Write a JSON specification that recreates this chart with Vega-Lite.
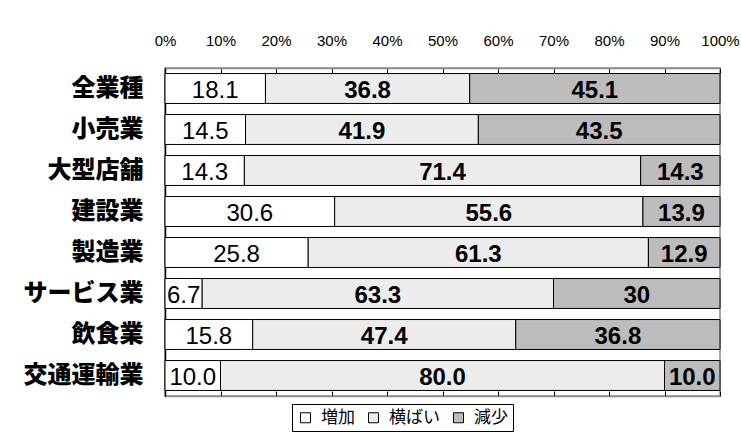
{
  "$schema": "https://vega.github.io/schema/vega-lite/v6.json",
  "width": 555,
  "height": 328,
  "autosize": {"type": "none"},
  "padding": {"left": 165, "top": 68, "right": 21, "bottom": 44},
  "background": "white",
  "config": {
    "view": {"stroke": "#8c8c8c", "strokeWidth": 1.5},
    "font": "Liberation Sans"
  },
  "data": {
    "values": [
      {"industry": "全業種", "category": "増加", "value": 18.1, "label": "18.1"},
      {"industry": "全業種", "category": "横ばい", "value": 36.8, "label": "36.8"},
      {"industry": "全業種", "category": "減少", "value": 45.1, "label": "45.1"},
      {"industry": "小売業", "category": "増加", "value": 14.5, "label": "14.5"},
      {"industry": "小売業", "category": "横ばい", "value": 41.9, "label": "41.9"},
      {"industry": "小売業", "category": "減少", "value": 43.5, "label": "43.5"},
      {"industry": "大型店舗", "category": "増加", "value": 14.3, "label": "14.3"},
      {"industry": "大型店舗", "category": "横ばい", "value": 71.4, "label": "71.4"},
      {"industry": "大型店舗", "category": "減少", "value": 14.3, "label": "14.3"},
      {"industry": "建設業", "category": "増加", "value": 30.6, "label": "30.6"},
      {"industry": "建設業", "category": "横ばい", "value": 55.6, "label": "55.6"},
      {"industry": "建設業", "category": "減少", "value": 13.9, "label": "13.9"},
      {"industry": "製造業", "category": "増加", "value": 25.8, "label": "25.8"},
      {"industry": "製造業", "category": "横ばい", "value": 61.3, "label": "61.3"},
      {"industry": "製造業", "category": "減少", "value": 12.9, "label": "12.9"},
      {"industry": "サービス業", "category": "増加", "value": 6.7, "label": "6.7"},
      {"industry": "サービス業", "category": "横ばい", "value": 63.3, "label": "63.3"},
      {"industry": "サービス業", "category": "減少", "value": 30, "label": "30"},
      {"industry": "飲食業", "category": "増加", "value": 15.8, "label": "15.8"},
      {"industry": "飲食業", "category": "横ばい", "value": 47.4, "label": "47.4"},
      {"industry": "飲食業", "category": "減少", "value": 36.8, "label": "36.8"},
      {"industry": "交通運輸業", "category": "増加", "value": 10.0, "label": "10.0"},
      {"industry": "交通運輸業", "category": "横ばい", "value": 80.0, "label": "80.0"},
      {"industry": "交通運輸業", "category": "減少", "value": 10.0, "label": "10.0"}
    ]
  },
  "transform": [
    {"stack": "value", "groupby": ["industry"], "sort": [{"field": "category", "order": "ascending"}], "offset": "normalize", "as": ["v0", "v1"]}
  ],
  "encoding": {
    "y": {
      "field": "industry",
      "type": "nominal",
      "sort": ["全業種", "小売業", "大型店舗", "建設業", "製造業", "サービス業", "飲食業", "交通運輸業"],
      "scale": {"paddingInner": 0.27, "paddingOuter": 0.135},
      "axis": {
        "title": null,
        "domainColor": "black",
        "domainWidth": 1.5,
        "tickBand": "extent",
        "tickSize": -5,
        "tickColor": "black",
        "labelFont": "Noto Sans CJK JP",
        "labelFontWeight": 900,
        "labelFontSize": 24,
        "labelColor": "black",
        "labelPadding": 27
      }
    }
  },
  "layer": [
    {
      "mark": {"type": "bar", "stroke": "black", "strokeWidth": 1},
      "encoding": {
        "x": {
          "field": "v0",
          "type": "quantitative",
          "scale": {"domain": [0, 1], "nice": false},
          "axis": {
            "orient": "top",
            "title": null,
            "format": ".0%",
            "values": [0, 0.1, 0.2, 0.3, 0.4, 0.5, 0.6, 0.7, 0.8, 0.9, 1],
            "grid": false,
            "domainColor": "#8c8c8c",
            "domainWidth": 1.5,
            "tickSize": -5,
            "tickColor": "black",
            "labelFont": "Liberation Sans",
            "labelFontSize": 15,
            "labelColor": "black",
            "labelPadding": 25,
            "labelFlush": false
          }
        },
        "x2": {"field": "v1"},
        "color": {
          "field": "category",
          "type": "nominal",
          "scale": {"domain": ["増加", "横ばい", "減少"], "range": ["#ffffff", "#ececec", "#bcbcbc"]},
          "legend": {
            "title": null,
            "orient": "none",
            "legendX": 127,
            "legendY": 336,
            "direction": "horizontal",
            "strokeColor": "black",
            "padding": 5,
            "symbolType": "square",
            "symbolSize": 100,
            "symbolStrokeColor": "black",
            "symbolStrokeWidth": 1,
            "labelFont": "Noto Sans CJK JP",
            "labelFontSize": 17,
            "labelColor": "black",
            "labelOffset": 7,
            "columnPadding": 10
          }
        }
      }
    },
    {
      "mark": {
        "type": "text",
        "fontSize": 24,
        "font": "Liberation Sans",
        "color": "black",
        "dy": 2,
        "dx": {"expr": "(scale('x', datum.v1) - scale('x', datum.v0)) / 2"},
        "fontWeight": {"expr": "datum.category === '増加' ? 'normal' : 'bold'"}
      },
      "encoding": {
        "x": {
          "field": "v0",
          "type": "quantitative",
          "axis": {
            "orient": "bottom",
            "title": null,
            "labels": false,
            "values": [0, 0.1, 0.2, 0.3, 0.4, 0.5, 0.6, 0.7, 0.8, 0.9, 1],
            "grid": false,
            "domainColor": "#8c8c8c",
            "domainWidth": 1.5,
            "tickSize": -5,
            "tickColor": "black"
          }
        },
        "text": {"field": "label"}
      }
    }
  ],
  "resolve": {"axis": {"x": "independent"}}
}
